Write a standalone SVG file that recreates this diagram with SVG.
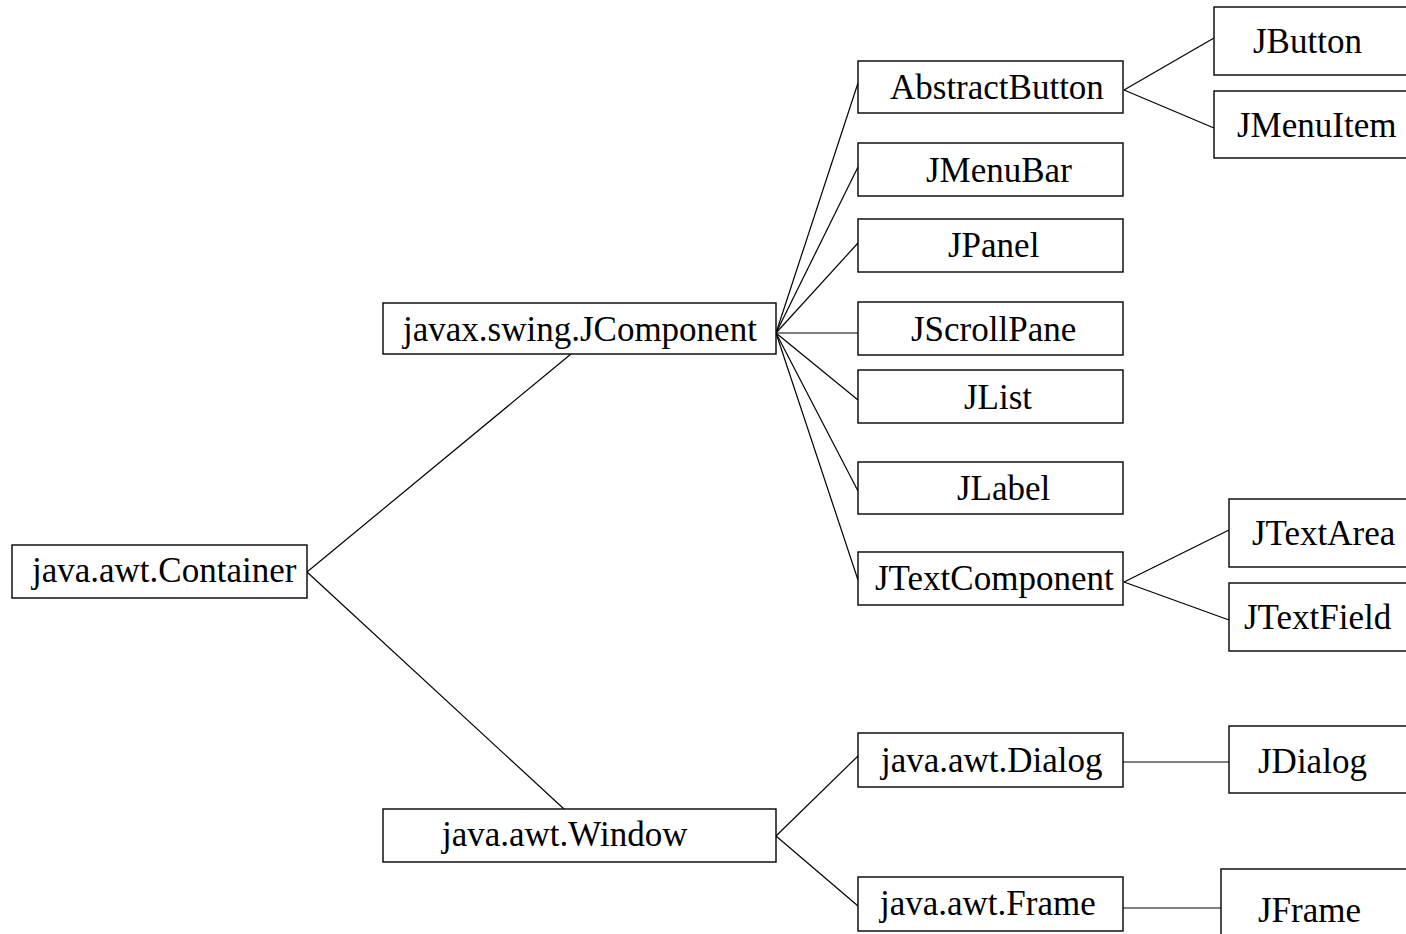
<svg xmlns="http://www.w3.org/2000/svg" width="1406" height="934" viewBox="0 0 1406 934">
<style>
rect{fill:#fff;stroke:#000;stroke-width:1.4}
text{font-family:"Liberation Serif","Times New Roman",serif;font-size:35px;fill:#000}
.c line{stroke:#000;stroke-width:1.2}
</style>
<rect x="0" y="0" width="1406" height="934" style="stroke:none"/>
<g class="c" id="connectors">
<line x1="307" y1="572" x2="571" y2="354"/>
<line x1="307" y1="572" x2="564" y2="809"/>
<line x1="776" y1="333" x2="858" y2="83"/>
<line x1="776" y1="333" x2="858" y2="167"/>
<line x1="776" y1="333" x2="858" y2="243"/>
<line x1="776" y1="333" x2="858" y2="333"/>
<line x1="776" y1="333" x2="858" y2="400"/>
<line x1="776" y1="333" x2="858" y2="491"/>
<line x1="776" y1="333" x2="858" y2="580"/>
<line x1="1124" y1="90" x2="1214" y2="38"/>
<line x1="1124" y1="90" x2="1214" y2="128"/>
<line x1="1124" y1="582" x2="1229" y2="530"/>
<line x1="1124" y1="582" x2="1229" y2="620"/>
<line x1="776" y1="836" x2="858" y2="756"/>
<line x1="776" y1="836" x2="858" y2="906"/>
<line x1="1123" y1="762" x2="1229" y2="762"/>
<line x1="1123" y1="908" x2="1221" y2="908"/>
</g>
<g id="container"><rect x="12" y="545" width="295" height="53"/><text x="32" y="582">java.awt.Container</text></g>
<g id="jcomponent"><rect x="383" y="303" width="393" height="51"/><text x="403" y="341">javax.swing.JComponent</text></g>
<g id="window"><rect x="383" y="809" width="393" height="53"/><text x="442" y="846">java.awt.Window</text></g>
<g id="abstractbutton"><rect x="858" y="61" width="265" height="52"/><text x="890" y="99">AbstractButton</text></g>
<g id="jmenubar"><rect x="858" y="143" width="265" height="53"/><text x="926" y="182">JMenuBar</text></g>
<g id="jpanel"><rect x="858" y="219" width="265" height="53"/><text x="948" y="257">JPanel</text></g>
<g id="jscrollpane"><rect x="858" y="302" width="265" height="53"/><text x="911" y="341">JScrollPane</text></g>
<g id="jlist"><rect x="858" y="370" width="265" height="53"/><text x="964" y="409">JList</text></g>
<g id="jlabel"><rect x="858" y="462" width="265" height="52"/><text x="957" y="500">JLabel</text></g>
<g id="jtextcomponent"><rect x="858" y="552" width="265" height="53"/><text x="875" y="590">JTextComponent</text></g>
<g id="dialog"><rect x="858" y="733" width="265" height="54"/><text x="881" y="772">java.awt.Dialog</text></g>
<g id="frame"><rect x="858" y="877" width="265" height="54"/><text x="880" y="915">java.awt.Frame</text></g>
<g id="jbutton"><rect x="1214" y="7" width="200" height="68"/><text x="1253" y="53">JButton</text></g>
<g id="jmenuitem"><rect x="1214" y="91" width="200" height="67"/><text x="1237" y="137">JMenuItem</text></g>
<g id="jtextarea"><rect x="1229" y="499" width="200" height="68"/><text x="1252" y="545">JTextArea</text></g>
<g id="jtextfield"><rect x="1229" y="583" width="200" height="68"/><text x="1244" y="629">JTextField</text></g>
<g id="jdialog"><rect x="1229" y="726" width="200" height="67"/><text x="1258" y="773">JDialog</text></g>
<g id="jframe"><rect x="1221" y="869" width="200" height="80"/><text x="1258" y="922">JFrame</text></g>
</svg>
